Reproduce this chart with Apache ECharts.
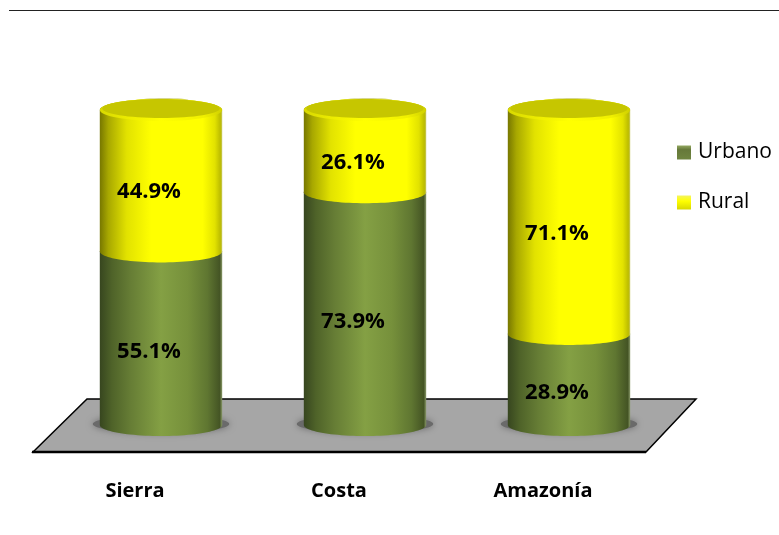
<!DOCTYPE html>
<html>
<head>
<meta charset="utf-8">
<style>html,body{margin:0;padding:0;background:#fff}#chart{width:779px;height:535px}</style>
<script src="https://cdn.jsdelivr.net/npm/echarts@6/dist/echarts.min.js"></script>
</head>
<body>
<div id="chart"></div>
<script>
// Población urbana y rural por región natural (%)
const categories = ['Sierra', 'Costa', 'Amazonía'];
const urbano = [55.1, 73.9, 28.9];
const rural = [44.9, 26.1, 71.1];

const FONT = '"Open Sans", sans-serif';
const ELLIPSE_RY = 11;

function hGradient(stops) {
  return {
    type: 'linear', x: 0, y: 0, x2: 1, y2: 0,
    colorStops: stops.map(s => ({ offset: s[0], color: s[1] }))
  };
}
function vGradient(stops) {
  return {
    type: 'linear', x: 0, y: 0, x2: 0, y2: 1,
    colorStops: stops.map(s => ({ offset: s[0], color: s[1] }))
  };
}

const GREEN_SIDE = hGradient([
  [0, '#37461f'], [0.1, '#4f6329'], [0.25, '#667d35'], [0.5, '#84a044'],
  [0.72, '#76903b'], [0.88, '#5f7631'], [0.98, '#445424'], [1, '#8a9a6a']
]);
const YELLOW_SIDE = hGradient([
  [0, '#777700'], [0.07, '#a8a800'], [0.22, '#e2e200'], [0.42, '#ffff00'],
  [0.84, '#ffff00'], [0.94, '#e2e200'], [0.985, '#bcbc00'], [1, '#c8c860']
]);
const RIM = hGradient([
  [0, '#d8d800'], [0.25, '#eeee00'], [0.5, '#ffff00'], [0.85, '#f0f000'], [1, '#d0d000']
]);

// Side surface of one stacked segment: upper arc at yTop, lower arc bulging at yBottom
function sidePoints(cx, rx, yTop, yBottom) {
  const pts = [];
  const steps = 48;
  for (let i = 0; i <= steps; i++) {
    const t = Math.PI + (Math.PI * i) / steps;
    pts.push([cx + rx * Math.cos(t), yTop + ELLIPSE_RY * Math.sin(t)]);
  }
  for (let i = 0; i <= steps; i++) {
    const t = (Math.PI * i) / steps;
    pts.push([cx + rx * Math.cos(t), yBottom + ELLIPSE_RY * Math.sin(t)]);
  }
  return pts;
}

function renderSegment(params, api) {
  const idx = api.value(0);
  const start = api.value(1);
  const end = api.value(2);
  const [cx, yBottom] = api.coord([idx, start]);
  const [, yTop] = api.coord([idx, end]);
  const rx = api.size([1, 0])[0] * 0.3;
  const isGreen = params.seriesIndex === 0;
  const children = [];

  if (isGreen) {
    // Soft contact shadow on the floor
    children.push({
      type: 'ellipse',
      shape: { cx: cx, cy: yBottom - 1, rx: rx + 7, ry: ELLIPSE_RY - 2 },
      style: { fill: '#6a6a6a', shadowBlur: 7, shadowColor: '#6a6a6a' }
    });
  }

  children.push({
    type: 'polygon',
    shape: { points: sidePoints(cx, rx, yTop, yBottom) },
    style: { fill: isGreen ? GREEN_SIDE : YELLOW_SIDE }
  });

  if (!isGreen) {
    // Cap of the cylinder: pale far edge, bright rim, darker lid
    children.push({
      type: 'ellipse',
      shape: { cx: cx + 3, cy: yTop - ELLIPSE_RY + 1, rx: rx * 0.4, ry: 2 },
      style: { fill: '#d6d690' }
    });
    children.push({
      type: 'ellipse',
      shape: { cx: cx, cy: yTop, rx: rx, ry: ELLIPSE_RY },
      style: { fill: RIM }
    });
    children.push({
      type: 'ellipse',
      shape: { cx: cx, cy: yTop - 1.5, rx: rx * 0.96, ry: ELLIPSE_RY - 1.5 },
      style: { fill: '#c6c600' }
    });
  }

  children.push({
    type: 'text',
    style: {
      text: (end - start).toFixed(1) + '%',
      x: cx - 12,
      y: (yTop + yBottom) / 2 + (isGreen ? 13.5 : 11.5),
      align: 'center',
      verticalAlign: 'middle',
      font: '700 22px ' + FONT,
      fill: '#000'
    }
  });

  return { type: 'group', children: children };
}

const urbanoRows = categories.map((c, i) => [i, 0, urbano[i]]);
const ruralRows = categories.map((c, i) => [i, urbano[i], urbano[i] + rural[i]]);

const chart = echarts.init(document.getElementById('chart'), null, { renderer: 'canvas' });
chart.setOption({
  animation: false,
  backgroundColor: '#fff',
  grid: { left: 59, width: 612, top: 110, height: 315 },
  xAxis: {
    type: 'category',
    data: categories,
    axisLine: { show: false },
    axisTick: { show: false },
    axisLabel: {
      margin: 56,
      padding: [0, 52, 0, 0],
      fontFamily: FONT,
      fontWeight: 700,
      fontSize: 20,
      color: '#000'
    }
  },
  yAxis: { type: 'value', min: 0, max: 100, show: false },
  legend: {
    orient: 'vertical',
    left: 677,
    top: 142,
    padding: 0,
    itemWidth: 14,
    itemHeight: 14,
    itemGap: 29,
    icon: 'rect',
    textStyle: { fontFamily: FONT, fontSize: 21, color: '#000', padding: [0, 0, 0, 2] },
    data: [
      { name: 'Urbano', itemStyle: { color: vGradient([[0, '#93a860'], [0.3, '#66793a'], [1, '#6f8540']]) } },
      { name: 'Rural', itemStyle: { color: vGradient([[0, '#f4f460'], [0.4, '#ffff00'], [1, '#d8d800']]) } }
    ]
  },
  graphic: [
    {
      type: 'line', z: 0, silent: true,
      shape: { x1: 9, y1: 10.5, x2: 779, y2: 10.5 },
      style: { stroke: '#222', lineWidth: 1 }
    },
    {
      type: 'polygon', z: 0, silent: true,
      shape: { points: [[33, 452], [87, 399], [696, 399], [646, 452]] },
      style: { fill: '#a6a6a6', stroke: '#000', lineWidth: 1.5 }
    },
    {
      type: 'line', z: 0, silent: true,
      shape: { x1: 32, y1: 452, x2: 646, y2: 452 },
      style: { stroke: '#000', lineWidth: 2.5 }
    }
  ],
  series: [
    {
      name: 'Urbano', type: 'custom', z: 3, renderItem: renderSegment,
      itemStyle: { color: '#6f8540' },
      encode: { x: 0, y: 2 }, data: urbanoRows
    },
    {
      name: 'Rural', type: 'custom', z: 4, renderItem: renderSegment,
      itemStyle: { color: '#ffff00' },
      encode: { x: 0, y: 2 }, data: ruralRows
    }
  ]
});
</script>
</body>
</html>
